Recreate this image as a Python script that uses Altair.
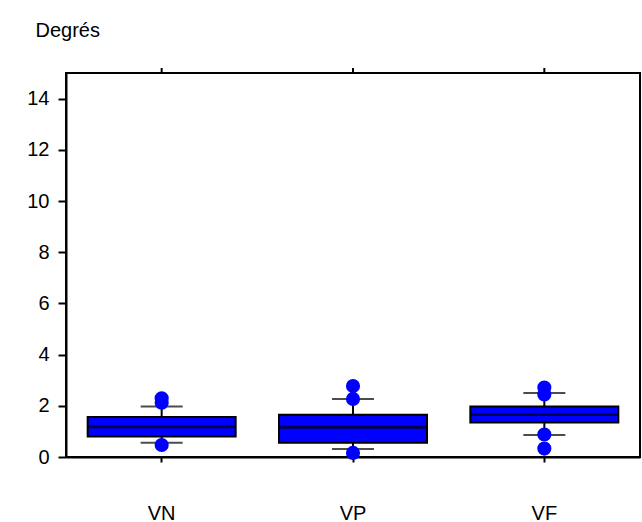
import altair as alt
import pandas as pd

# Box statistics per group (degrees)
groups = ["VN", "VP", "VF"]
q1 = [0.80, 0.56, 1.35]
median = [1.18, 1.16, 1.66]
q3 = [1.56, 1.65, 1.97]
whisker_low = [0.56, 0.31, 0.86]
whisker_high = [1.97, 2.27, 2.50]

# Individual values beyond the whiskers
outlier_group = ["VN", "VN", "VN", "VP", "VP", "VP", "VF", "VF", "VF", "VF"]
outlier_value = [2.12, 2.29, 0.47, 2.27, 2.77, 0.16, 2.44, 2.71, 0.88, 0.33]

y_ticks = list(range(0, 15))

stats = pd.DataFrame({
    "group": groups, "q1": q1, "median": median, "q3": q3,
    "lo": whisker_low, "hi": whisker_high,
})
outliers = pd.DataFrame({"group": outlier_group, "value": outlier_value})

FONT = "Liberation Sans"
BLUE = "#0000ff"

x = alt.X(
    "group:N",
    sort=groups,
    scale=alt.Scale(paddingInner=0, paddingOuter=0),
    axis=alt.Axis(
        title=None, labelAngle=0, labelFontSize=20, labelFont=FONT,
        labelColor="black", tickSize=5, tickColor="black", tickWidth=2,
        domainColor="black", domainWidth=2, labelPadding=41, grid=False,
    ),
)
y_scale = alt.Scale(domain=[0, 15], nice=False)
y_axis = alt.Axis(
    values=y_ticks,
    labelExpr="datum.value % 2 == 0 ? datum.label : ''",
    tickSize={"condition": {"test": "datum.value % 2 == 1", "value": 4}, "value": 8},
    tickColor="black", tickWidth=2, domainColor="black", domainWidth=2,
    labelFontSize=20, labelFont=FONT, labelColor="black", labelPadding=9,
    grid=False,
    title="Degrés", titleAngle=0, titleAlign="left", titleBaseline="middle",
    titleX=-31, titleY=-43, titleFont=FONT, titleFontSize=20,
    titleFontWeight="normal", titleColor="black",
)

base = alt.Chart(stats)

upper_whisker = base.mark_rule(color="black", strokeWidth=2).encode(
    x=x, y=alt.Y("q3:Q", scale=y_scale, axis=y_axis), y2="hi:Q"
)
lower_whisker = base.mark_rule(color="black", strokeWidth=2).encode(
    x=x, y=alt.Y("lo:Q", scale=y_scale), y2="q1:Q"
)
cap_hi = base.mark_tick(color="black", size=42, thickness=2).encode(
    x=x, y=alt.Y("hi:Q", scale=y_scale)
)
cap_lo = base.mark_tick(color="black", size=42, thickness=2).encode(
    x=x, y=alt.Y("lo:Q", scale=y_scale)
)
box = base.mark_bar(width=148, color=BLUE, stroke="black", strokeWidth=2).encode(
    x=x, y=alt.Y("q1:Q", scale=y_scale), y2="q3:Q"
)
mid = base.mark_tick(color="black", size=148, thickness=3).encode(
    x=x, y=alt.Y("median:Q", scale=y_scale)
)
points = alt.Chart(outliers).mark_circle(size=200, color=BLUE, opacity=1).encode(
    x=x, y=alt.Y("value:Q", scale=y_scale)
)
# small ticks on the top edge of the frame
top_ticks = base.mark_rule(color="black", strokeWidth=2).encode(
    x=x, y=alt.value(-5), y2=alt.value(0)
)

chart = alt.layer(
    upper_whisker, lower_whisker, cap_hi, cap_lo, box, mid, points, top_ticks
).properties(
    width=574, height=384,
    autosize=alt.AutoSizeParams(type="none"),
    padding={"left": 66, "top": 73, "right": 2, "bottom": 65},
    background="white",
).configure_view(stroke="black", strokeWidth=2)

chart.save("out.html", embed_options={"renderer": "svg", "actions": False})
